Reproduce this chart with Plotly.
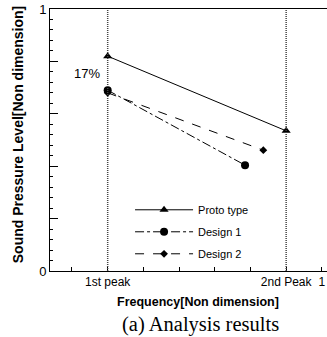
import plotly.graph_objects as go

# ---- data ----
series_names = ["Proto type", "Design 1", "Design 2"]
proto_x = [0.25, 0.875]
proto_y = [0.82, 0.535]
d1_x = [0.25, 0.731]
d1_y = [0.69, 0.404]
d2_x = [0.25, 0.795]
d2_y = [0.68, 0.461]
peak_x = [0.25, 0.875]
xtick_vals = [0.125, 0.25, 0.375, 0.5, 0.625, 0.75, 0.875, 1.0]
xtick_text = ["", "1st peak", "", "", "", "", "2nd Peak", "1"]
ytick_vals = [0, 0.2, 0.4, 0.6, 0.8, 1.0]
ytick_text = ["0", "", "", "", "", "1"]
note_text = "17%"
note_x, note_y = 0.178, 0.752

FONT = "Liberation Sans, Arial, sans-serif"

fig = go.Figure()
fig.add_trace(go.Scatter(x=proto_x, y=proto_y, name=series_names[0], mode="lines+markers",
                         line=dict(color="black", width=1, dash="solid"),
                         marker=dict(symbol="triangle-up", size=8, color="black"),
                         legendgroup="a"))
fig.add_trace(go.Scatter(x=d1_x, y=d1_y, name=series_names[1], mode="lines+markers",
                         line=dict(color="black", width=1, dash="dashdot"),
                         marker=dict(symbol="circle", size=8, color="black"),
                         legendgroup="b"))
fig.add_trace(go.Scatter(x=d2_x, y=d2_y, name=series_names[2], mode="lines+markers",
                         line=dict(color="black", width=1, dash="dash"),
                         marker=dict(symbol="diamond", size=6, color="black"),
                         legendgroup="c"))

for px in peak_x:
    fig.add_vline(x=px, line=dict(color="#444444", width=1.5, dash="1px,1px"))

fig.add_annotation(x=note_x, y=note_y, text=note_text, showarrow=False,
                   font=dict(family=FONT, size=13, color="black"))

fig.add_annotation(xref="paper", yref="paper", x=-0.1155, xanchor="center", y=0.522, yanchor="middle",
                   text="<b>Sound Pressure Level[Non dimension]</b>",
                   textangle=-90, showarrow=False, font=dict(family=FONT, size=14, color="black"))
fig.add_annotation(xref="paper", yref="paper", x=0.534, xanchor="center", y=-0.12, yanchor="middle",
                   text="<b>Frequency[Non dimension]</b>", showarrow=False,
                   font=dict(family=FONT, size=12.5, color="black"))
fig.add_annotation(xref="paper", yref="paper", x=0.545, xanchor="center", y=-0.206, yanchor="middle",
                   text="(a) Analysis results", showarrow=False,
                   font=dict(family="Liberation Serif, Times New Roman, serif", size=20.5, color="black"))

fig.update_xaxes(range=[0.048, 1.018], showgrid=False, zeroline=False,
                 showline=True, linecolor="black", linewidth=1, mirror=True,
                 tickmode="array", tickvals=xtick_vals, ticktext=xtick_text,
                 ticks="inside", ticklen=4, tickcolor="black",
                 tickfont=dict(family=FONT, size=12, color="black"))
fig.update_yaxes(range=[0, 1], showgrid=False, zeroline=False,
                 showline=True, linecolor="black", linewidth=1,
                 tickmode="array", tickvals=ytick_vals, ticktext=ytick_text,
                 ticks="inside", ticklen=8, tickcolor="black",
                 minor=dict(dtick=0.04, ticks="inside", ticklen=3, tickcolor="black", showgrid=False),
                 tickfont=dict(family=FONT, size=13, color="black"))

fig.update_layout(
    width=327, height=337,
    margin=dict(l=50, r=0, t=9, b=66),
    paper_bgcolor="white", plot_bgcolor="white",
    legend=dict(x=0.289, y=0.289, xanchor="left", yanchor="top", bgcolor="rgba(0,0,0,0)",
                font=dict(family=FONT, size=11, color="black"),
                tracegroupgap=3, traceorder="grouped", itemwidth=58),
    showlegend=True,
)

fig.write_html("out.html")
